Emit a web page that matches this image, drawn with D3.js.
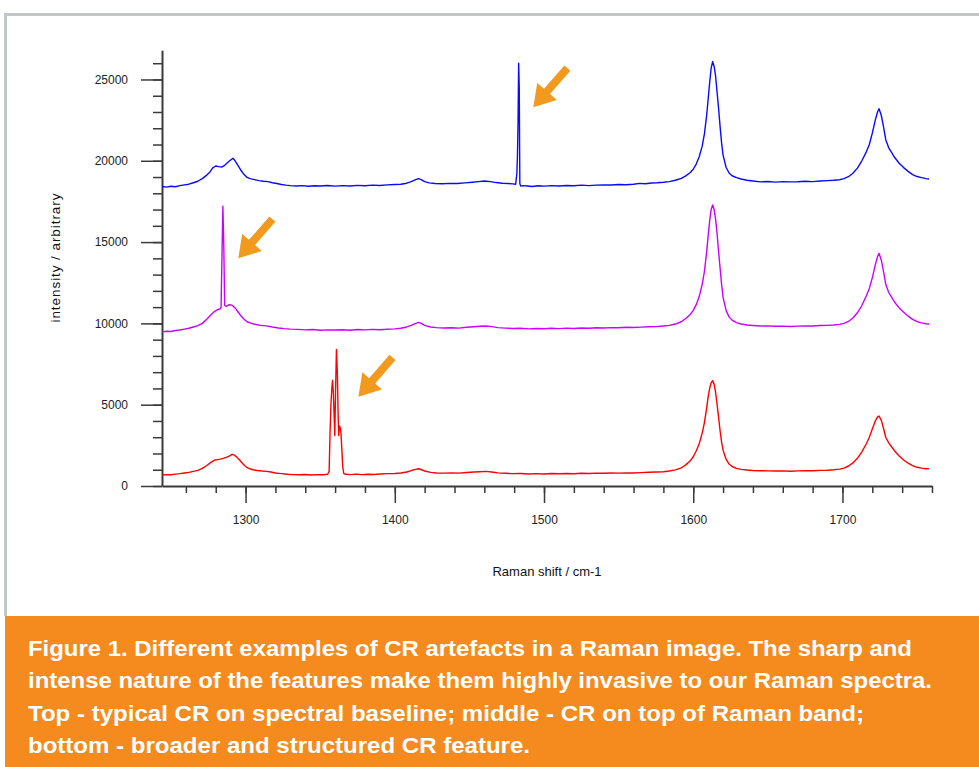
<!DOCTYPE html>
<html>
<head>
<meta charset="utf-8">
<script src="https://cdn.jsdelivr.net/npm/d3@7"></script>
<style>
  html, body { margin: 0; padding: 0; background: #ffffff; }
  svg { display: block; }
</style>
</head>
<body>
<svg id="chart" width="979" height="767"></svg>
<script>
// ---------- DATA ----------
const xMajorTicks = [1300, 1400, 1500, 1600, 1700];
const xMinorTicks = [1260,1280,1300,1320,1340,1360,1380,1400,1420,1440,1460,1480,1500,1520,1540,1560,1580,1600,1620,1640,1660,1680,1700,1720,1740,1760];
const yMajorTicks = [0, 5000, 10000, 15000, 20000, 25000];
const yMinorTicks = [0,1000,2000,3000,4000,5000,6000,7000,8000,9000,10000,11000,12000,13000,14000,15000,16000,17000,18000,19000,20000,21000,22000,23000,24000,25000,26000];

const xTitle = "Raman shift / cm-1";
const yTitle = "intensity / arbitrary";

// top spectrum: typical CR on spectral baseline  [Raman shift, intensity]
const topSpectrum = [
[1244,18420],[1247,18380],[1250,18430],[1253,18400],[1256,18470],[1259,18520],[1262,18560],[1265,18650],[1268,18740],[1271,18900],
[1274,19120],[1276,19300],[1278,19560],[1280,19680],[1282,19640],[1284,19610],[1286,19720],[1288,19890],[1290,20050],[1291.5,20160],
[1293,20000],[1295,19700],[1297,19400],[1299,19150],[1301,18980],[1303,18900],[1306,18840],[1309,18780],[1312,18740],[1315,18720],
[1318,18650],[1321,18600],[1324,18540],[1327,18500],[1330,18470],[1334,18450],[1338,18470],[1342,18430],[1346,18460],[1350,18450],
[1355,18480],[1360,18440],[1365,18470],[1370,18450],[1375,18490],[1380,18460],[1385,18500],[1390,18480],[1395,18520],[1400,18540],
[1404,18560],[1408,18620],[1411,18720],[1414,18840],[1416,18900],[1418,18830],[1420,18720],[1423,18640],[1427,18600],[1432,18590],
[1437,18610],[1442,18600],[1447,18640],[1452,18680],[1456,18720],[1460,18760],[1464,18720],[1468,18660],[1472,18620],[1476,18600],
[1479,18580],[1481,18560],[1481.8,19200],[1482.2,20300],[1482.6,22400],[1483.0,26000],[1483.4,24500],[1483.8,18600],[1484.4,18440],[1486,18470],
[1489,18450],[1492,18420],[1496,18460],[1500,18440],[1505,18470],[1510,18450],[1515,18480],[1520,18460],[1525,18500],[1530,18470],
[1535,18500],[1540,18520],[1545,18510],[1550,18540],[1555,18530],[1560,18560],[1564,18610],[1568,18590],[1572,18630],[1576,18650],
[1580,18680],[1584,18720],[1588,18800],[1592,18920],[1595,19070],[1598,19280],[1600,19480],[1602,19800],[1604,20250],[1606,20900],
[1607.5,21650],[1609,22800],[1610,23800],[1611,24800],[1612,25700],[1613,26100],[1614,25800],[1615,25200],[1616,24200],[1617,23200],
[1618,22100],[1619,21100],[1620,20350],[1622,19600],[1624,19250],[1626,19080],[1629,18960],[1632,18880],[1636,18800],[1640,18760],
[1645,18700],[1650,18730],[1655,18690],[1660,18720],[1665,18700],[1670,18710],[1675,18740],[1680,18720],[1685,18760],[1690,18780],
[1694,18800],[1698,18830],[1701,18900],[1704,19020],[1707,19230],[1710,19550],[1713,20000],[1716,20550],[1718,21000],[1720,21700],
[1722,22500],[1723.5,23000],[1724.5,23200],[1726,22800],[1727.5,22100],[1729,21300],[1731,20800],[1733,20500],[1735,20200],[1738,19850],
[1741,19580],[1744,19350],[1747,19150],[1750,19030],[1753,18960],[1756,18900],[1758,18880]
];

// middle spectrum: CR on top of a Raman band
const middleSpectrum = [
[1244,9480],[1247,9520],[1250,9500],[1253,9560],[1256,9590],[1259,9650],[1262,9700],[1265,9780],[1268,9860],[1271,10000],
[1274,10250],[1277,10550],[1279,10720],[1281,10830],[1283,10900],[1283.6,11000],[1284.2,14200],[1284.8,17200],[1285.4,14800],[1286,11100],
[1287,11050],[1289,11150],[1291,11120],[1293,10950],[1295,10700],[1297,10450],[1299,10250],[1301,10100],[1304,10000],[1307,9930],
[1310,9880],[1314,9850],[1318,9780],[1322,9720],[1326,9680],[1330,9650],[1335,9630],[1340,9600],[1345,9620],[1350,9580],
[1355,9600],[1360,9590],[1365,9610],[1370,9580],[1375,9620],[1380,9600],[1385,9630],[1390,9610],[1395,9640],[1400,9660],
[1404,9700],[1408,9780],[1411,9880],[1414,10000],[1416,10060],[1418,9980],[1420,9880],[1424,9780],[1428,9740],[1433,9720],
[1438,9730],[1443,9710],[1448,9760],[1453,9790],[1457,9820],[1461,9840],[1465,9800],[1469,9740],[1474,9710],[1479,9690],
[1484,9700],[1490,9660],[1495,9690],[1500,9670],[1505,9700],[1510,9680],[1515,9710],[1520,9690],[1525,9720],[1530,9700],
[1535,9730],[1540,9720],[1545,9740],[1550,9730],[1555,9760],[1560,9750],[1565,9770],[1570,9790],[1575,9800],[1580,9840],
[1584,9880],[1588,9960],[1592,10100],[1595,10300],[1598,10550],[1600,10800],[1602,11150],[1604,11650],[1606,12400],[1607.5,13200],
[1609,14400],[1610,15400],[1611,16300],[1612,17000],[1613,17280],[1614,17000],[1615,16400],[1616,15500],[1617,14400],[1618,13400],
[1619,12400],[1620,11600],[1622,10800],[1624,10400],[1626,10200],[1629,10050],[1632,9960],[1636,9900],[1640,9870],[1645,9840],
[1650,9850],[1655,9820],[1660,9830],[1665,9810],[1670,9830],[1675,9850],[1680,9840],[1685,9870],[1690,9880],[1694,9900],
[1698,9940],[1701,10000],[1704,10120],[1707,10330],[1710,10650],[1713,11100],[1716,11700],[1718,12150],[1720,12800],[1722,13600],
[1723.5,14100],[1724.5,14310],[1726,13900],[1727.5,13200],[1729,12400],[1731,11900],[1733,11600],[1735,11300],[1738,10950],[1741,10680],
[1744,10450],[1747,10250],[1750,10110],[1753,10030],[1756,9980],[1758,9960]
];

// bottom spectrum: broader and structured CR feature
const bottomSpectrum = [
[1244,680],[1247,700],[1250,690],[1253,730],[1256,760],[1259,800],[1262,840],[1265,900],[1268,960],[1271,1080],
[1274,1260],[1277,1470],[1279,1580],[1281,1620],[1283,1650],[1285,1700],[1287,1760],[1289,1840],[1291,1950],[1292.5,1900],
[1294,1780],[1296,1600],[1298,1380],[1300,1200],[1302,1080],[1305,1000],[1308,950],[1311,920],[1314,900],[1317,860],
[1320,800],[1324,760],[1328,720],[1332,700],[1336,690],[1340,710],[1344,680],[1348,700],[1352,690],[1355,720],
[1356,900],[1356.6,3200],[1357.2,5000],[1357.8,6000],[1358.3,6500],[1358.8,5800],[1359.3,4500],[1359.8,3100],[1360.3,5800],[1360.9,8400],
[1361.5,7000],[1362.0,4500],[1362.4,3100],[1362.9,3700],[1363.4,3600],[1363.9,3300],[1364.5,2300],[1365.1,1200],[1365.8,780],[1367,720],
[1370,700],[1374,730],[1378,700],[1382,720],[1386,710],[1390,740],[1395,760],[1400,770],[1404,800],[1408,860],
[1411,950],[1414,1020],[1416,1060],[1418,1000],[1420,920],[1424,840],[1428,800],[1433,790],[1438,800],[1443,790],
[1448,830],[1453,860],[1457,880],[1461,900],[1465,860],[1469,810],[1474,780],[1479,760],[1484,770],[1490,740],
[1495,760],[1500,740],[1505,770],[1510,750],[1515,770],[1520,750],[1525,780],[1530,770],[1535,790],[1540,780],
[1545,800],[1550,790],[1555,810],[1560,800],[1565,820],[1570,850],[1575,860],[1580,880],[1584,920],[1588,990],
[1592,1120],[1595,1300],[1598,1550],[1600,1800],[1602,2150],[1604,2600],[1606,3250],[1607.5,3900],[1609,4800],[1610,5500],
[1611,6000],[1612,6350],[1613,6480],[1614,6250],[1615,5750],[1616,5000],[1617,4200],[1618,3400],[1619,2700],[1620,2200],
[1622,1650],[1624,1350],[1626,1200],[1629,1080],[1632,1020],[1636,980],[1640,950],[1645,940],[1650,930],[1655,920],
[1660,930],[1665,910],[1670,930],[1675,940],[1680,940],[1685,960],[1690,970],[1694,1000],[1698,1040],[1701,1100],
[1704,1230],[1707,1420],[1710,1700],[1713,2100],[1716,2600],[1718,3000],[1720,3500],[1722,4000],[1723.5,4250],[1724.5,4300],
[1726,4050],[1727.5,3550],[1729,3000],[1731,2650],[1733,2400],[1735,2150],[1738,1850],[1741,1600],[1744,1400],[1747,1250],
[1750,1150],[1753,1100],[1756,1060],[1758,1070]
];

const seriesNames = ["top", "middle", "bottom"];
const seriesColors = ["#0a0aff", "#cc00ff", "#ff0000"];

// arrow annotations: tip position in data coordinates [Raman shift, intensity]
const arrowTips = [[1492.8, 23290], [1295.1, 14000], [1375.6, 5490]];

const captionLines = [
  "Figure 1. Different examples of CR artefacts in a Raman image. The sharp and",
  "intense nature of the features make them highly invasive to our Raman spectra.",
  "Top - typical CR on spectral baseline; middle - CR on top of Raman band;",
  "bottom - broader and structured CR feature."
];

// ---------- DRAWING ----------
const svg = d3.select("#chart");
const W = 979, H = 767;
svg.append("rect").attr("width", W).attr("height", H).attr("fill", "#ffffff");

// outer light-grey frame
svg.append("rect").attr("x", 4).attr("y", 13).attr("width", W).attr("height", 3).attr("fill", "#c3c6c6");
svg.append("rect").attr("x", 4).attr("y", 13).attr("width", 3).attr("height", 616 - 13).attr("fill", "#c3c6c6");

const plot = { left: 162, right: 932, top: 50.2, bottom: 486 };
const x = d3.scaleLinear().domain([1244, 1760]).range([plot.left, plot.right]);
const y = d3.scaleLinear().domain([0, 26800]).range([plot.bottom, plot.top]);

const axisColor = "#3a3a3a";
const fontFam = "'Liberation Sans', Arial, Helvetica, sans-serif";

function styleAxis(g, width) {
  g.selectAll("path.domain").attr("stroke", axisColor).attr("stroke-width", width);
  g.selectAll(".tick line").attr("stroke", axisColor).attr("stroke-width", 1.5);
  g.selectAll(".tick text").attr("fill", "#222").attr("font-family", fontFam).attr("font-size", 12);
}

// y minor
const gyMinor = svg.append("g").attr("transform", `translate(${plot.left},0)`)
  .call(d3.axisLeft(y).tickValues(yMinorTicks).tickSize(9).tickSizeOuter(0).tickFormat(""));
gyMinor.select("path.domain").remove();
styleAxis(gyMinor, 1.5);
// y major
const gyMajor = svg.append("g").attr("transform", `translate(${plot.left},0)`)
  .call(d3.axisLeft(y).tickValues(yMajorTicks).tickSize(21).tickSizeOuter(0).tickPadding(13).tickFormat(d3.format("d")));
styleAxis(gyMajor, 2);

// x minor
const gxMinor = svg.append("g").attr("transform", `translate(0,${plot.bottom})`)
  .call(d3.axisBottom(x).tickValues(xMinorTicks).tickSize(7).tickSizeOuter(0).tickFormat(""));
gxMinor.select("path.domain").remove();
styleAxis(gxMinor, 1.5);
// x major
const gxMajor = svg.append("g").attr("transform", `translate(0,${plot.bottom})`)
  .call(d3.axisBottom(x).tickValues(xMajorTicks).tickSize(17).tickSizeOuter(0).tickPadding(12).tickFormat(d3.format("d")));
styleAxis(gxMajor, 2);

// axis titles
svg.append("text")
  .attr("x", (plot.left + plot.right) / 2).attr("y", 576)
  .attr("text-anchor", "middle").attr("font-family", fontFam).attr("font-size", 13).attr("fill", "#111")
  .text(xTitle);
svg.append("text")
  .attr("transform", "translate(60,258) rotate(-90)")
  .attr("text-anchor", "middle").attr("font-family", fontFam).attr("font-size", 13.5).attr("fill", "#111")
  .attr("textLength", 129).attr("lengthAdjust", "spacing")
  .text(yTitle);

// spectra
const line = d3.line().x(d => x(d[0])).y(d => y(d[1]));
[topSpectrum, middleSpectrum, bottomSpectrum].forEach((s, i) => {
  svg.append("path").datum(s)
    .attr("class", "spectrum " + seriesNames[i])
    .attr("fill", "none").attr("stroke", seriesColors[i])
    .attr("stroke-width", 1.4).attr("stroke-linejoin", "round")
    .attr("d", line);
});

// orange arrows pointing at the cosmic-ray spikes
const arrowShape = [[0,0],[-21,-13],[-21,-4],[-52,-4],[-52,4],[-21,4],[-21,13]];
arrowTips.forEach(t => {
  svg.append("polygon")
    .attr("points", arrowShape.map(p => p.join(",")).join(" "))
    .attr("transform", `translate(${x(t[0])},${y(t[1])}) rotate(131)`)
    .attr("fill", "#f29a1e");
});

// caption box
svg.append("rect").attr("x", 5).attr("y", 616).attr("width", W - 5).attr("height", H - 616).attr("fill", "#f58b1f");
const capWidths = [884, 904, 836, 502];
const capBase = [656, 688, 721, 753];
captionLines.forEach((t, i) => {
  svg.append("text")
    .attr("x", 28).attr("y", capBase[i])
    .attr("font-family", "'Liberation Sans Narrow', 'Liberation Sans', Arial, sans-serif")
    .attr("font-weight", "bold").attr("font-size", 22).attr("fill", "#ffffff")
    .attr("textLength", capWidths[i]).attr("lengthAdjust", "spacingAndGlyphs")
    .text(t);
});
</script>
</body>
</html>
